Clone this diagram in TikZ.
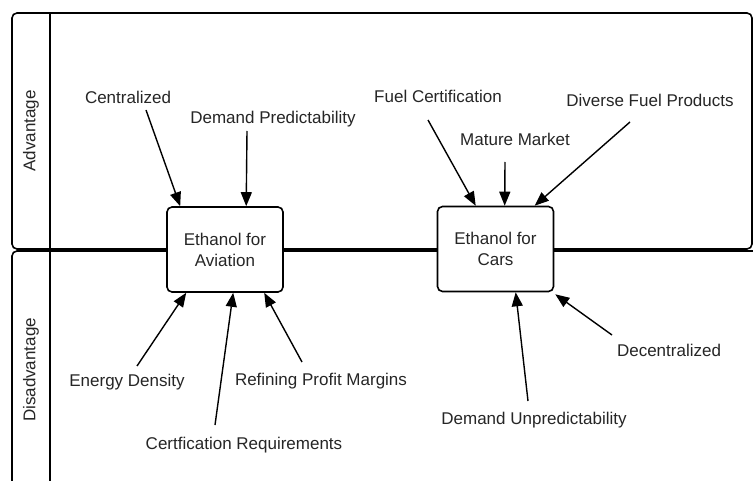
\documentclass[tikz,border=0pt]{standalone}
\usepackage{fontspec}
\setmainfont{Liberation Sans}
\usetikzlibrary{arrows.meta,calc}
\begin{document}
\begin{tikzpicture}[x=1pt,y=-1pt,
  lane/.style={line width=1.6pt,rounded corners=5pt},
  procbox/.style={draw,fill=white,line width=1.6pt,rounded corners=5pt,
    minimum width=116pt,minimum height=85pt,align=center,
    font=\fontsize{17}{21}\selectfont,text=black!85},
  factor/.style={font=\fontsize{17}{21}\selectfont,text=black!85,inner sep=0pt},
  lanetitle/.style={font=\fontsize{17}{21}\selectfont,text=black!85,rotate=90,inner sep=0pt},
  arr/.style={line width=1.4pt,-{Triangle[length=14pt,width=11pt]}}]
\clip (0,0) rectangle (753,481);
\fill[white] (0,0) rectangle (753,481);

% swim lanes
\draw[lane] (12,13) rectangle (752,249);
\draw[lane] (12,500) -- (12,251) -- (770,251);
\draw[line width=1.6pt] (50,13) -- (50,500);
\node[lanetitle] (adv) at (31,131) {Advantage};
\node[lanetitle] (dis) at (31,370) {Disadvantage};

% central processes
\node[procbox] (avi) at (225,249.5) {Ethanol for\\Aviation};
\node[procbox] (cars) at (495.5,249) {Ethanol for\\Cars};

% advantage labels
\node[factor] (cen) at (128,97) {Centralized};
\node[factor] (dpred) at (273,119) {Demand Predictability};
\node[factor] (fcert) at (438,96) {Fuel Certification};
\node[factor] (mat) at (515,139.5) {Mature Market};
\node[factor] (div) at (650,100) {Diverse Fuel Products};

% disadvantage labels
\node[factor] (edens) at (127,382.5) {Energy Density};
\node[factor] (creq) at (244,445.5) {Certfication Requirements};
\node[factor] (rpm) at (321,381) {Refining Profit Margins};
\node[factor] (dunp) at (534,420) {Demand Unpredictability};
\node[factor] (dec) at (669,350) {Decentralized};

% arrow tails
\coordinate (cenT) at (146,110);
\coordinate (dpredT) at (247,131);
\coordinate (fcertT) at (428,120);
\coordinate (matT) at (505,162);
\coordinate (divT) at (630,122);
\coordinate (edensT) at (137,366);
\coordinate (creqT) at (215,425);
\coordinate (rpmT) at (302,362);
\coordinate (dunpT) at (528,401);
\coordinate (decT) at (612,335);

% influences on aviation
\draw[arr] (cenT) -- ([xshift=14pt]avi.north west);
\draw[arr] (dpredT) -- ([xshift=80pt]avi.north west);
\draw[arr] (edensT) -- ([xshift=20pt]avi.south west);
\draw[arr] (creqT) -- ([xshift=67pt]avi.south west);
\draw[arr] (rpmT) -- ([xshift=98pt]avi.south west);

% influences on cars
\draw[arr] (fcertT) -- ([xshift=39pt]cars.north west);
\draw[arr] (matT) -- ([xshift=68pt]cars.north west);
\draw[arr] (divT) -- ([xshift=98pt]cars.north west);
\draw[arr] (dunpT) -- ([xshift=79pt]cars.south west);
\draw[arr] (decT) -- ([shift={(1pt,-2pt)}]cars.south east);
\end{tikzpicture}
\end{document}
